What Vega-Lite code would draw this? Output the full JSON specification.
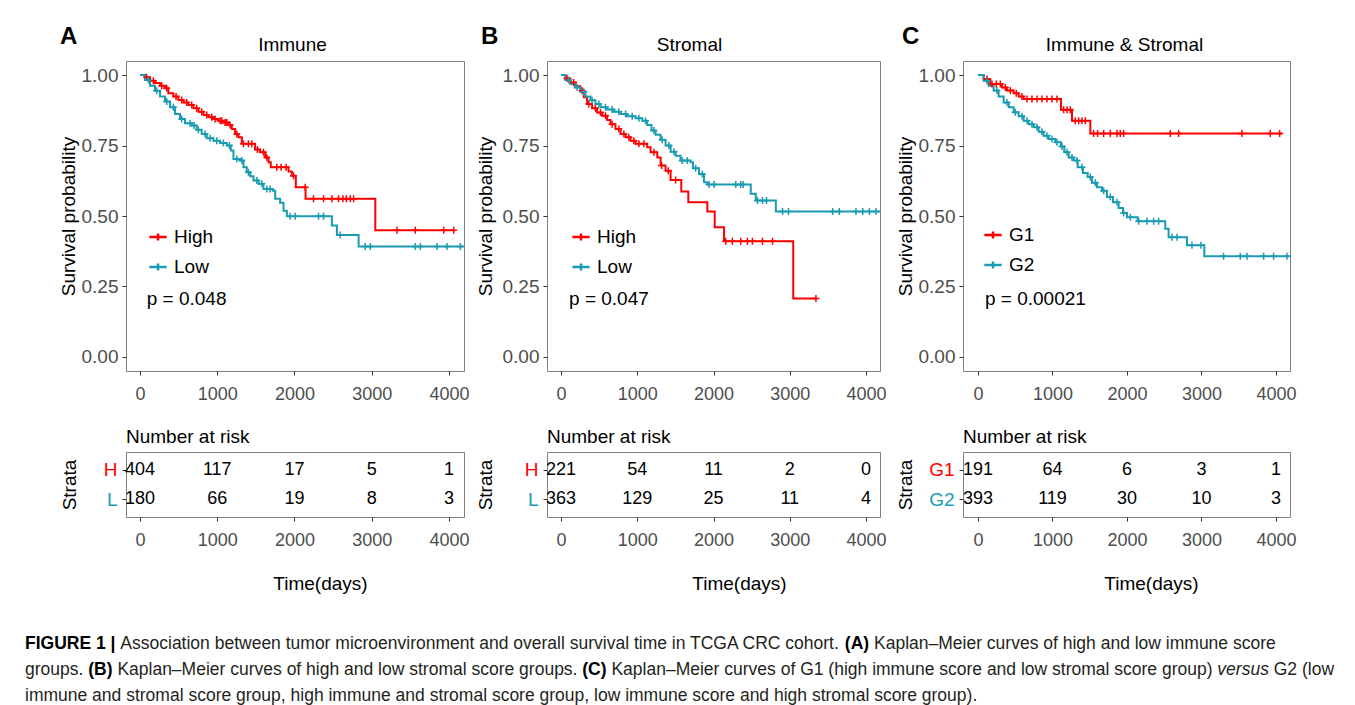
{
"$schema": "https://vega.github.io/schema/vega-lite/v6.json",
"background": "#ffffff",
"padding": {"left": 25, "top": 24, "right": 2, "bottom": 2},
"columns": 3,
"bounds": "flush",
"align": "each",
"spacing": {"row": 81, "column": 83},
"resolve": {"scale": {"color": "independent"}, "legend": {"color": "independent"}},
"datasets": {
"A_curve": [
{"group":"High","t":0,"s":1},{"group":"High","t":65,"s":0.992},{"group":"High","t":130,"s":0.98},{"group":"High","t":194,"s":0.972},{"group":"High","t":259,"s":0.962},{"group":"High","t":324,"s":0.953},{"group":"High","t":367,"s":0.936},{"group":"High","t":432,"s":0.924},{"group":"High","t":497,"s":0.912},{"group":"High","t":562,"s":0.903},{"group":"High","t":626,"s":0.894},{"group":"High","t":691,"s":0.882},{"group":"High","t":756,"s":0.87},{"group":"High","t":821,"s":0.858},{"group":"High","t":886,"s":0.85},{"group":"High","t":950,"s":0.844},{"group":"High","t":1015,"s":0.838},{"group":"High","t":1080,"s":0.832},{"group":"High","t":1145,"s":0.823},{"group":"High","t":1188,"s":0.809},{"group":"High","t":1231,"s":0.791},{"group":"High","t":1274,"s":0.779},{"group":"High","t":1318,"s":0.756},{"group":"High","t":1490,"s":0.736},{"group":"High","t":1555,"s":0.726},{"group":"High","t":1620,"s":0.708},{"group":"High","t":1663,"s":0.691},{"group":"High","t":1693,"s":0.673},{"group":"High","t":1922,"s":0.658},{"group":"High","t":1966,"s":0.643},{"group":"High","t":2017,"s":0.602},{"group":"High","t":2143,"s":0.561},{"group":"High","t":3046,"s":0.449},{"group":"High","t":4069,"s":0.449},
{"group":"Low","t":0,"s":1},{"group":"Low","t":65,"s":0.983},{"group":"Low","t":130,"s":0.962},{"group":"Low","t":194,"s":0.944},{"group":"Low","t":259,"s":0.924},{"group":"Low","t":324,"s":0.906},{"group":"Low","t":389,"s":0.886},{"group":"Low","t":454,"s":0.862},{"group":"Low","t":518,"s":0.844},{"group":"Low","t":583,"s":0.829},{"group":"Low","t":670,"s":0.821},{"group":"Low","t":734,"s":0.806},{"group":"Low","t":799,"s":0.791},{"group":"Low","t":864,"s":0.776},{"group":"Low","t":950,"s":0.767},{"group":"Low","t":1037,"s":0.759},{"group":"Low","t":1123,"s":0.75},{"group":"Low","t":1175,"s":0.732},{"group":"Low","t":1210,"s":0.702},{"group":"Low","t":1296,"s":0.697},{"group":"Low","t":1339,"s":0.673},{"group":"Low","t":1382,"s":0.655},{"group":"Low","t":1426,"s":0.641},{"group":"Low","t":1469,"s":0.626},{"group":"Low","t":1534,"s":0.614},{"group":"Low","t":1598,"s":0.596},{"group":"Low","t":1719,"s":0.59},{"group":"Low","t":1750,"s":0.561},{"group":"Low","t":1814,"s":0.547},{"group":"Low","t":1858,"s":0.519},{"group":"Low","t":1901,"s":0.499},{"group":"Low","t":2484,"s":0.466},{"group":"Low","t":2549,"s":0.433},{"group":"Low","t":2830,"s":0.392},{"group":"Low","t":4190,"s":0.392}
],
"A_cens": [
{"group":"High","t":86,"s":0.992},{"group":"High","t":173,"s":0.98},{"group":"High","t":281,"s":0.962},{"group":"High","t":346,"s":0.953},{"group":"High","t":467,"s":0.924},{"group":"High","t":540,"s":0.912},{"group":"High","t":605,"s":0.903},{"group":"High","t":670,"s":0.894},{"group":"High","t":734,"s":0.882},{"group":"High","t":799,"s":0.87},{"group":"High","t":864,"s":0.858},{"group":"High","t":929,"s":0.85},{"group":"High","t":972,"s":0.844},{"group":"High","t":1037,"s":0.838},{"group":"High","t":1058,"s":0.838},{"group":"High","t":1102,"s":0.832},{"group":"High","t":1123,"s":0.832},{"group":"High","t":1166,"s":0.823},{"group":"High","t":1253,"s":0.791},{"group":"High","t":1339,"s":0.756},{"group":"High","t":1404,"s":0.756},{"group":"High","t":1447,"s":0.756},{"group":"High","t":1521,"s":0.736},{"group":"High","t":1598,"s":0.726},{"group":"High","t":1642,"s":0.708},{"group":"High","t":1771,"s":0.673},{"group":"High","t":1827,"s":0.673},{"group":"High","t":1892,"s":0.673},{"group":"High","t":1987,"s":0.643},{"group":"High","t":2138,"s":0.602},{"group":"High","t":2246,"s":0.561},{"group":"High","t":2376,"s":0.561},{"group":"High","t":2484,"s":0.561},{"group":"High","t":2570,"s":0.561},{"group":"High","t":2627,"s":0.561},{"group":"High","t":2670,"s":0.561},{"group":"High","t":2722,"s":0.561},{"group":"High","t":2765,"s":0.561},{"group":"High","t":3326,"s":0.449},{"group":"High","t":3564,"s":0.449},{"group":"High","t":3931,"s":0.449},{"group":"High","t":4061,"s":0.449},
{"group":"Low","t":108,"s":0.983},{"group":"Low","t":216,"s":0.944},{"group":"Low","t":346,"s":0.906},{"group":"Low","t":432,"s":0.886},{"group":"Low","t":540,"s":0.844},{"group":"Low","t":648,"s":0.829},{"group":"Low","t":700,"s":0.821},{"group":"Low","t":756,"s":0.806},{"group":"Low","t":842,"s":0.791},{"group":"Low","t":907,"s":0.776},{"group":"Low","t":994,"s":0.767},{"group":"Low","t":1080,"s":0.759},{"group":"Low","t":1158,"s":0.75},{"group":"Low","t":1253,"s":0.702},{"group":"Low","t":1318,"s":0.697},{"group":"Low","t":1404,"s":0.655},{"group":"Low","t":1512,"s":0.626},{"group":"Low","t":1577,"s":0.614},{"group":"Low","t":1642,"s":0.596},{"group":"Low","t":1685,"s":0.596},{"group":"Low","t":1944,"s":0.499},{"group":"Low","t":2009,"s":0.499},{"group":"Low","t":2311,"s":0.499},{"group":"Low","t":2376,"s":0.499},{"group":"Low","t":2592,"s":0.433},{"group":"Low","t":2916,"s":0.392},{"group":"Low","t":2981,"s":0.392},{"group":"Low","t":3564,"s":0.392},{"group":"Low","t":3629,"s":0.392},{"group":"Low","t":3845,"s":0.392},{"group":"Low","t":3974,"s":0.392},{"group":"Low","t":4147,"s":0.392}
],
"B_curve": [
{"group":"High","t":0,"s":1},{"group":"High","t":57,"s":0.988},{"group":"High","t":123,"s":0.974},{"group":"High","t":188,"s":0.96},{"group":"High","t":254,"s":0.944},{"group":"High","t":298,"s":0.921},{"group":"High","t":342,"s":0.897},{"group":"High","t":407,"s":0.882},{"group":"High","t":473,"s":0.867},{"group":"High","t":539,"s":0.856},{"group":"High","t":605,"s":0.841},{"group":"High","t":648,"s":0.826},{"group":"High","t":714,"s":0.809},{"group":"High","t":780,"s":0.791},{"group":"High","t":846,"s":0.779},{"group":"High","t":911,"s":0.767},{"group":"High","t":977,"s":0.756},{"group":"High","t":1130,"s":0.744},{"group":"High","t":1174,"s":0.726},{"group":"High","t":1262,"s":0.708},{"group":"High","t":1306,"s":0.679},{"group":"High","t":1371,"s":0.661},{"group":"High","t":1437,"s":0.628},{"group":"High","t":1577,"s":0.587},{"group":"High","t":1669,"s":0.549},{"group":"High","t":1919,"s":0.516},{"group":"High","t":2015,"s":0.46},{"group":"High","t":2138,"s":0.41},{"group":"High","t":3045,"s":0.207},{"group":"High","t":3343,"s":0.207},
{"group":"Low","t":0,"s":1},{"group":"Low","t":57,"s":0.983},{"group":"Low","t":123,"s":0.968},{"group":"Low","t":188,"s":0.956},{"group":"Low","t":254,"s":0.941},{"group":"Low","t":320,"s":0.924},{"group":"Low","t":386,"s":0.911},{"group":"Low","t":451,"s":0.897},{"group":"Low","t":517,"s":0.886},{"group":"Low","t":605,"s":0.878},{"group":"Low","t":692,"s":0.87},{"group":"Low","t":780,"s":0.862},{"group":"Low","t":867,"s":0.854},{"group":"Low","t":977,"s":0.847},{"group":"Low","t":1065,"s":0.838},{"group":"Low","t":1130,"s":0.823},{"group":"Low","t":1187,"s":0.803},{"group":"Low","t":1240,"s":0.788},{"group":"Low","t":1306,"s":0.771},{"group":"Low","t":1371,"s":0.75},{"group":"Low","t":1437,"s":0.728},{"group":"Low","t":1503,"s":0.714},{"group":"Low","t":1568,"s":0.697},{"group":"Low","t":1700,"s":0.691},{"group":"Low","t":1730,"s":0.669},{"group":"Low","t":1809,"s":0.649},{"group":"Low","t":1875,"s":0.62},{"group":"Low","t":1919,"s":0.612},{"group":"Low","t":2488,"s":0.579},{"group":"Low","t":2554,"s":0.555},{"group":"Low","t":2817,"s":0.516},{"group":"Low","t":4183,"s":0.516}
],
"B_cens": [
{"group":"High","t":79,"s":0.988},{"group":"High","t":166,"s":0.974},{"group":"High","t":276,"s":0.944},{"group":"High","t":364,"s":0.897},{"group":"High","t":451,"s":0.882},{"group":"High","t":517,"s":0.867},{"group":"High","t":583,"s":0.856},{"group":"High","t":670,"s":0.826},{"group":"High","t":758,"s":0.809},{"group":"High","t":824,"s":0.791},{"group":"High","t":889,"s":0.779},{"group":"High","t":955,"s":0.767},{"group":"High","t":1021,"s":0.756},{"group":"High","t":1086,"s":0.756},{"group":"High","t":1218,"s":0.726},{"group":"High","t":1319,"s":0.679},{"group":"High","t":1406,"s":0.661},{"group":"High","t":1503,"s":0.628},{"group":"High","t":2160,"s":0.41},{"group":"High","t":2247,"s":0.41},{"group":"High","t":2357,"s":0.41},{"group":"High","t":2445,"s":0.41},{"group":"High","t":2510,"s":0.41},{"group":"High","t":2642,"s":0.41},{"group":"High","t":2773,"s":0.41},{"group":"High","t":3343,"s":0.207},
{"group":"Low","t":101,"s":0.983},{"group":"Low","t":210,"s":0.956},{"group":"Low","t":298,"s":0.941},{"group":"Low","t":407,"s":0.911},{"group":"Low","t":495,"s":0.897},{"group":"Low","t":583,"s":0.886},{"group":"Low","t":670,"s":0.878},{"group":"Low","t":758,"s":0.87},{"group":"Low","t":846,"s":0.862},{"group":"Low","t":933,"s":0.854},{"group":"Low","t":1021,"s":0.847},{"group":"Low","t":1108,"s":0.838},{"group":"Low","t":1218,"s":0.803},{"group":"Low","t":1327,"s":0.771},{"group":"Low","t":1415,"s":0.75},{"group":"Low","t":1481,"s":0.728},{"group":"Low","t":1590,"s":0.697},{"group":"Low","t":1656,"s":0.697},{"group":"Low","t":1766,"s":0.669},{"group":"Low","t":1853,"s":0.649},{"group":"Low","t":1941,"s":0.612},{"group":"Low","t":2007,"s":0.612},{"group":"Low","t":2291,"s":0.612},{"group":"Low","t":2357,"s":0.612},{"group":"Low","t":2388,"s":0.612},{"group":"Low","t":2576,"s":0.555},{"group":"Low","t":2642,"s":0.555},{"group":"Low","t":2694,"s":0.555},{"group":"Low","t":2905,"s":0.516},{"group":"Low","t":2983,"s":0.516},{"group":"Low","t":3562,"s":0.516},{"group":"Low","t":3649,"s":0.516},{"group":"Low","t":3868,"s":0.516},{"group":"Low","t":3956,"s":0.516},{"group":"Low","t":4044,"s":0.516},{"group":"Low","t":4131,"s":0.516}
],
"C_curve": [
{"group":"G1","t":0,"s":1},{"group":"G1","t":76,"s":0.986},{"group":"G1","t":166,"s":0.968},{"group":"G1","t":322,"s":0.956},{"group":"G1","t":389,"s":0.945},{"group":"G1","t":479,"s":0.936},{"group":"G1","t":546,"s":0.924},{"group":"G1","t":613,"s":0.915},{"group":"G1","t":1114,"s":0.877},{"group":"G1","t":1262,"s":0.838},{"group":"G1","t":1508,"s":0.793},{"group":"G1","t":4080,"s":0.793},
{"group":"G2","t":0,"s":1},{"group":"G2","t":76,"s":0.98},{"group":"G2","t":143,"s":0.962},{"group":"G2","t":210,"s":0.945},{"group":"G2","t":277,"s":0.924},{"group":"G2","t":345,"s":0.903},{"group":"G2","t":412,"s":0.886},{"group":"G2","t":479,"s":0.868},{"group":"G2","t":546,"s":0.854},{"group":"G2","t":613,"s":0.838},{"group":"G2","t":680,"s":0.826},{"group":"G2","t":747,"s":0.815},{"group":"G2","t":814,"s":0.799},{"group":"G2","t":881,"s":0.785},{"group":"G2","t":949,"s":0.773},{"group":"G2","t":1038,"s":0.762},{"group":"G2","t":1114,"s":0.747},{"group":"G2","t":1159,"s":0.726},{"group":"G2","t":1217,"s":0.708},{"group":"G2","t":1284,"s":0.697},{"group":"G2","t":1338,"s":0.673},{"group":"G2","t":1409,"s":0.653},{"group":"G2","t":1472,"s":0.638},{"group":"G2","t":1530,"s":0.618},{"group":"G2","t":1597,"s":0.602},{"group":"G2","t":1664,"s":0.59},{"group":"G2","t":1731,"s":0.567},{"group":"G2","t":1812,"s":0.549},{"group":"G2","t":1888,"s":0.528},{"group":"G2","t":1946,"s":0.511},{"group":"G2","t":2000,"s":0.496},{"group":"G2","t":2143,"s":0.481},{"group":"G2","t":2514,"s":0.455},{"group":"G2","t":2559,"s":0.425},{"group":"G2","t":2805,"s":0.396},{"group":"G2","t":3038,"s":0.357},{"group":"G2","t":4188,"s":0.357}
],
"C_cens": [
{"group":"G1","t":121,"s":0.986},{"group":"G1","t":188,"s":0.968},{"group":"G1","t":246,"s":0.968},{"group":"G1","t":300,"s":0.968},{"group":"G1","t":367,"s":0.956},{"group":"G1","t":434,"s":0.945},{"group":"G1","t":514,"s":0.936},{"group":"G1","t":590,"s":0.924},{"group":"G1","t":658,"s":0.915},{"group":"G1","t":725,"s":0.915},{"group":"G1","t":792,"s":0.915},{"group":"G1","t":859,"s":0.915},{"group":"G1","t":926,"s":0.915},{"group":"G1","t":993,"s":0.915},{"group":"G1","t":1060,"s":0.915},{"group":"G1","t":1150,"s":0.877},{"group":"G1","t":1195,"s":0.877},{"group":"G1","t":1239,"s":0.877},{"group":"G1","t":1306,"s":0.838},{"group":"G1","t":1351,"s":0.838},{"group":"G1","t":1396,"s":0.838},{"group":"G1","t":1441,"s":0.838},{"group":"G1","t":1552,"s":0.793},{"group":"G1","t":1606,"s":0.793},{"group":"G1","t":1687,"s":0.793},{"group":"G1","t":1776,"s":0.793},{"group":"G1","t":1866,"s":0.793},{"group":"G1","t":1910,"s":0.793},{"group":"G1","t":1955,"s":0.793},{"group":"G1","t":2581,"s":0.793},{"group":"G1","t":2693,"s":0.793},{"group":"G1","t":3543,"s":0.793},{"group":"G1","t":3924,"s":0.793},{"group":"G1","t":4049,"s":0.793},
{"group":"G2","t":121,"s":0.98},{"group":"G2","t":255,"s":0.945},{"group":"G2","t":389,"s":0.903},{"group":"G2","t":501,"s":0.868},{"group":"G2","t":591,"s":0.854},{"group":"G2","t":658,"s":0.838},{"group":"G2","t":725,"s":0.826},{"group":"G2","t":792,"s":0.815},{"group":"G2","t":859,"s":0.799},{"group":"G2","t":926,"s":0.785},{"group":"G2","t":993,"s":0.773},{"group":"G2","t":1060,"s":0.762},{"group":"G2","t":1127,"s":0.747},{"group":"G2","t":1195,"s":0.726},{"group":"G2","t":1262,"s":0.708},{"group":"G2","t":1329,"s":0.697},{"group":"G2","t":1396,"s":0.673},{"group":"G2","t":1508,"s":0.638},{"group":"G2","t":1575,"s":0.618},{"group":"G2","t":1687,"s":0.59},{"group":"G2","t":1776,"s":0.567},{"group":"G2","t":1866,"s":0.549},{"group":"G2","t":1955,"s":0.511},{"group":"G2","t":2045,"s":0.496},{"group":"G2","t":2157,"s":0.481},{"group":"G2","t":2268,"s":0.481},{"group":"G2","t":2358,"s":0.481},{"group":"G2","t":2425,"s":0.481},{"group":"G2","t":2604,"s":0.425},{"group":"G2","t":2671,"s":0.425},{"group":"G2","t":2872,"s":0.396},{"group":"G2","t":2993,"s":0.396},{"group":"G2","t":3297,"s":0.357},{"group":"G2","t":3521,"s":0.357},{"group":"G2","t":3611,"s":0.357},{"group":"G2","t":3834,"s":0.357},{"group":"G2","t":3968,"s":0.357},{"group":"G2","t":4147,"s":0.357}
],
"A_risk": [
{"strata":"H","t":0,"n":404},{"strata":"H","t":1000,"n":117},{"strata":"H","t":2000,"n":17},{"strata":"H","t":3000,"n":5},{"strata":"H","t":4000,"n":1},
{"strata":"L","t":0,"n":180},{"strata":"L","t":1000,"n":66},{"strata":"L","t":2000,"n":19},{"strata":"L","t":3000,"n":8},{"strata":"L","t":4000,"n":3}
],
"B_risk": [
{"strata":"H","t":0,"n":221},{"strata":"H","t":1000,"n":54},{"strata":"H","t":2000,"n":11},{"strata":"H","t":3000,"n":2},{"strata":"H","t":4000,"n":0},
{"strata":"L","t":0,"n":363},{"strata":"L","t":1000,"n":129},{"strata":"L","t":2000,"n":25},{"strata":"L","t":3000,"n":11},{"strata":"L","t":4000,"n":4}
],
"C_risk": [
{"strata":"G1","t":0,"n":191},{"strata":"G1","t":1000,"n":64},{"strata":"G1","t":2000,"n":6},{"strata":"G1","t":3000,"n":3},{"strata":"G1","t":4000,"n":1},
{"strata":"G2","t":0,"n":393},{"strata":"G2","t":1000,"n":119},{"strata":"G2","t":2000,"n":30},{"strata":"G2","t":3000,"n":10},{"strata":"G2","t":4000,"n":3}
]
},
"concat": [
{
"width": 338, "height": 310,
"title": {"text": "A", "anchor": "start", "frame": "group", "fontSize": 24, "fontWeight": "bold", "color": "#000000", "dx": -66, "offset": -33, "baseline": "alphabetic"},
"resolve": {"axis": {"x": "independent"}},
"layer": [
{"data": {"name": "A_curve"}, "mark": {"type": "line", "interpolate": "step-after", "strokeWidth": 2},
"encoding": {
"x": {"field": "t", "type": "quantitative", "scale": {"domain": [-181, 4194], "nice": false, "zero": false}, "axis": {"values": [0,1000,2000,3000,4000], "format": "d", "title": null, "labelFontSize": 18, "labelPadding": 10}},
"y": {"field": "s", "type": "quantitative", "scale": {"domain": [-0.05, 1.05], "nice": false, "zero": false}, "axis": {"values": [0,0.25,0.5,0.75,1], "format": ".2f", "labelFontSize": 19, "labelPadding": 4, "title": "Survival probability", "titleX": -58, "titleY": 155, "titleBaseline": "middle", "titleAngle": -90}},
"color": {"field": "group", "type": "nominal", "scale": {"domain": ["High","Low"], "range": ["#ff0000","#1a9bb2"]}, "legend": {"orient": "none", "legendX": 22, "legendY": 166, "title": null}}
}},
{"data": {"name": "A_cens"}, "mark": {"type": "point", "shape": "M-1,0L1,0M0,-1L0,1", "size": 49, "strokeWidth": 1.5, "filled": false, "opacity": 1},
"encoding": {
"x": {"field": "t", "type": "quantitative", "axis": {"orient": "top", "title": "Immune", "labels": false, "ticks": false, "titleX": 166, "titleY": -11, "titleBaseline": "alphabetic"}},
"y": {"field": "s", "type": "quantitative"},
"color": {"field": "group", "type": "nominal"}
}},
{"data": {"values": [{"label": "p = 0.048"}]}, "mark": {"type": "text", "align": "left", "baseline": "middle", "fontSize": 19, "color": "#000000"},
"encoding": {"x": {"datum": 87, "type": "quantitative", "axis": null}, "y": {"datum": 0.206, "type": "quantitative"}, "text": {"field": "label"}}}
]
},
{
"width": 333, "height": 310,
"title": {"text": "B", "anchor": "start", "frame": "group", "fontSize": 24, "fontWeight": "bold", "color": "#000000", "dx": -66, "offset": -33, "baseline": "alphabetic"},
"resolve": {"axis": {"x": "independent"}},
"layer": [
{"data": {"name": "B_curve"}, "mark": {"type": "line", "interpolate": "step-after", "strokeWidth": 2},
"encoding": {
"x": {"field": "t", "type": "quantitative", "scale": {"domain": [-184, 4183], "nice": false, "zero": false}, "axis": {"values": [0,1000,2000,3000,4000], "format": "d", "title": null, "labelFontSize": 18, "labelPadding": 10}},
"y": {"field": "s", "type": "quantitative", "scale": {"domain": [-0.05, 1.05], "nice": false, "zero": false}, "axis": {"values": [0,0.25,0.5,0.75,1], "format": ".2f", "labelFontSize": 19, "labelPadding": 4, "title": "Survival probability", "titleX": -62, "titleY": 155, "titleBaseline": "middle", "titleAngle": -90}},
"color": {"field": "group", "type": "nominal", "scale": {"domain": ["High","Low"], "range": ["#ff0000","#1a9bb2"]}, "legend": {"orient": "none", "legendX": 24, "legendY": 166, "title": null}}
}},
{"data": {"name": "B_cens"}, "mark": {"type": "point", "shape": "M-1,0L1,0M0,-1L0,1", "size": 49, "strokeWidth": 1.5, "filled": false, "opacity": 1},
"encoding": {
"x": {"field": "t", "type": "quantitative", "axis": {"orient": "top", "title": "Stromal", "labels": false, "ticks": false, "titleX": 142, "titleY": -11, "titleBaseline": "alphabetic"}},
"y": {"field": "s", "type": "quantitative"},
"color": {"field": "group", "type": "nominal"}
}},
{"data": {"values": [{"label": "p = 0.047"}]}, "mark": {"type": "text", "align": "left", "baseline": "middle", "fontSize": 19, "color": "#000000"},
"encoding": {"x": {"datum": 105, "type": "quantitative", "axis": null}, "y": {"datum": 0.206, "type": "quantitative"}, "text": {"field": "label"}}}
]
},
{
"width": 327, "height": 310,
"title": {"text": "C", "anchor": "start", "frame": "group", "fontSize": 24, "fontWeight": "bold", "color": "#000000", "dx": -61, "offset": -33, "baseline": "alphabetic"},
"resolve": {"axis": {"x": "independent"}},
"layer": [
{"data": {"name": "C_curve"}, "mark": {"type": "line", "interpolate": "step-after", "strokeWidth": 2},
"encoding": {
"x": {"field": "t", "type": "quantitative", "scale": {"domain": [-201, 4188], "nice": false, "zero": false}, "axis": {"values": [0,1000,2000,3000,4000], "format": "d", "title": null, "labelFontSize": 18, "labelPadding": 10}},
"y": {"field": "s", "type": "quantitative", "scale": {"domain": [-0.05, 1.05], "nice": false, "zero": false}, "axis": {"values": [0,0.25,0.5,0.75,1], "format": ".2f", "labelFontSize": 19, "labelPadding": 4, "title": "Survival probability", "titleX": -58, "titleY": 155, "titleBaseline": "middle", "titleAngle": -90}},
"color": {"field": "group", "type": "nominal", "scale": {"domain": ["G1","G2"], "range": ["#ff0000","#1a9bb2"]}, "legend": {"orient": "none", "legendX": 20, "legendY": 164, "title": null}}
}},
{"data": {"name": "C_cens"}, "mark": {"type": "point", "shape": "M-1,0L1,0M0,-1L0,1", "size": 49, "strokeWidth": 1.5, "filled": false, "opacity": 1},
"encoding": {
"x": {"field": "t", "type": "quantitative", "axis": {"orient": "top", "title": "Immune & Stromal", "labels": false, "ticks": false, "titleX": 161, "titleY": -11, "titleBaseline": "alphabetic"}},
"y": {"field": "s", "type": "quantitative"},
"color": {"field": "group", "type": "nominal"}
}},
{"data": {"values": [{"label": "p = 0.00021"}]}, "mark": {"type": "text", "align": "left", "baseline": "middle", "fontSize": 19, "color": "#000000"},
"encoding": {"x": {"datum": 94, "type": "quantitative", "axis": null}, "y": {"datum": 0.206, "type": "quantitative"}, "text": {"field": "label"}}}
]
},
{
"width": 338, "height": 65,
"title": {"text": "Number at risk", "anchor": "start", "frame": "group", "fontSize": 19, "fontWeight": "normal", "color": "#000000", "offset": 5},
"data": {"name": "A_risk"},
"mark": {"type": "text", "fontSize": 18, "color": "#000000", "baseline": "middle"},
"encoding": {
"x": {"field": "t", "type": "quantitative", "scale": {"domain": [-181, 4194], "nice": false, "zero": false}, "axis": {"values": [0,1000,2000,3000,4000], "format": "d", "labelFontSize": 18, "labelPadding": 10, "title": "Time(days)", "titleX": 194, "titleY": 72, "titleBaseline": "alphabetic"}},
"y": {"field": "strata", "type": "nominal", "scale": {"type": "point", "domain": ["H","L"], "padding": 0.62}, "axis": {"title": "Strata", "titleX": -57, "titleY": 32.5, "titleBaseline": "middle", "titleAngle": -90, "labelFontSize": 19, "labelPadding": 5, "labelColor": {"condition": {"test": "datum.value === 'H'", "value": "#ff0000"}, "value": "#1a9bb2"}}},
"text": {"field": "n", "type": "quantitative"}
}
},
{
"width": 333, "height": 65,
"title": {"text": "Number at risk", "anchor": "start", "frame": "group", "fontSize": 19, "fontWeight": "normal", "color": "#000000", "offset": 5},
"data": {"name": "B_risk"},
"mark": {"type": "text", "fontSize": 18, "color": "#000000", "baseline": "middle"},
"encoding": {
"x": {"field": "t", "type": "quantitative", "scale": {"domain": [-184, 4183], "nice": false, "zero": false}, "axis": {"values": [0,1000,2000,3000,4000], "format": "d", "labelFontSize": 18, "labelPadding": 10, "title": "Time(days)", "titleX": 192, "titleY": 72, "titleBaseline": "alphabetic"}},
"y": {"field": "strata", "type": "nominal", "scale": {"type": "point", "domain": ["H","L"], "padding": 0.62}, "axis": {"title": "Strata", "titleX": -62, "titleY": 32.5, "titleBaseline": "middle", "titleAngle": -90, "labelFontSize": 19, "labelPadding": 5, "labelColor": {"condition": {"test": "datum.value === 'H'", "value": "#ff0000"}, "value": "#1a9bb2"}}},
"text": {"field": "n", "type": "quantitative"}
}
},
{
"width": 327, "height": 65,
"title": {"text": "Number at risk", "anchor": "start", "frame": "group", "fontSize": 19, "fontWeight": "normal", "color": "#000000", "offset": 5},
"data": {"name": "C_risk"},
"mark": {"type": "text", "fontSize": 18, "color": "#000000", "baseline": "middle"},
"encoding": {
"x": {"field": "t", "type": "quantitative", "scale": {"domain": [-201, 4188], "nice": false, "zero": false}, "axis": {"values": [0,1000,2000,3000,4000], "format": "d", "labelFontSize": 18, "labelPadding": 10, "title": "Time(days)", "titleX": 188, "titleY": 72, "titleBaseline": "alphabetic"}},
"y": {"field": "strata", "type": "nominal", "scale": {"type": "point", "domain": ["G1","G2"], "padding": 0.62}, "axis": {"title": "Strata", "titleX": -58, "titleY": 32.5, "titleBaseline": "middle", "titleAngle": -90, "labelFontSize": 19, "labelPadding": 5, "labelColor": {"condition": {"test": "datum.value === 'G1'", "value": "#ff0000"}, "value": "#1a9bb2"}}},
"text": {"field": "n", "type": "quantitative"}
}
},
{
"width": 338, "height": 140,
"view": {"stroke": null},
"encoding": {
"x": {"datum": 0, "type": "quantitative", "scale": {"domain": [0, 1]}, "axis": null},
"y": {"field": "line", "type": "quantitative", "scale": {"domain": [-0.7692, 4.6154], "reverse": true, "nice": false, "zero": false}, "axis": null},
"text": {"field": "text"}
},
"layer": [
{"data": {"values": [{"line":1,"text":"FIGURE 1 |"}]}, "mark": {"type":"text","align":"left","baseline":"middle","fontSize":17.5,"fontWeight":"bold","dx":-101,"color":"#000000"}},
{"data": {"values": [{"line":1,"text":"Association between tumor microenvironment and overall survival time in TCGA CRC cohort."}]}, "mark": {"type":"text","align":"left","baseline":"middle","fontSize":17.5,"dx":-5.66,"color":"#231f20"}},
{"data": {"values": [{"line":1,"text":"(A)"}]}, "mark": {"type":"text","align":"left","baseline":"middle","fontSize":17.5,"fontWeight":"bold","dx":718.86,"color":"#000000"}},
{"data": {"values": [{"line":1,"text":"Kaplan–Meier curves of high and low immune score"}]}, "mark": {"type":"text","align":"left","baseline":"middle","fontSize":17.5,"dx":748.01,"color":"#231f20"}},
{"data": {"values": [{"line":2,"text":"groups."},{"line":3,"text":"immune and stromal score group, high immune and stromal score group, low immune score and high stromal score group)."}]}, "mark": {"type":"text","align":"left","baseline":"middle","fontSize":17.5,"dx":-101,"color":"#231f20"}},
{"data": {"values": [{"line":2,"text":"(B)"}]}, "mark": {"type":"text","align":"left","baseline":"middle","fontSize":17.5,"fontWeight":"bold","dx":-37.77,"color":"#000000"}},
{"data": {"values": [{"line":2,"text":"Kaplan–Meier curves of high and low stromal score groups."}]}, "mark": {"type":"text","align":"left","baseline":"middle","fontSize":17.5,"dx":-8.62,"color":"#231f20"}},
{"data": {"values": [{"line":2,"text":"(C)"}]}, "mark": {"type":"text","align":"left","baseline":"middle","fontSize":17.5,"fontWeight":"bold","dx":456.29,"color":"#000000"}},
{"data": {"values": [{"line":2,"text":"Kaplan–Meier curves of G1 (high immune score and low stromal score group)"}]}, "mark": {"type":"text","align":"left","baseline":"middle","fontSize":17.5,"dx":485.44,"color":"#231f20"}},
{"data": {"values": [{"line":2,"text":"versus"}]}, "mark": {"type":"text","align":"left","baseline":"middle","fontSize":17.5,"fontStyle":"italic","dx":1091.35,"color":"#231f20"}},
{"data": {"values": [{"line":2,"text":"G2 (low"}]}, "mark": {"type":"text","align":"left","baseline":"middle","fontSize":17.5,"dx":1147.75,"color":"#231f20"}}
]
}
],
"config": {
"font": "Liberation Sans",
"view": {"stroke": "#7f7f7f", "strokeWidth": 1},
"axis": {"grid": false, "domain": false, "tickColor": "#333333", "tickSize": 4, "tickWidth": 1, "labelColor": "#4d4d4d", "labelFont": "Liberation Sans", "titleFont": "Liberation Sans", "titleFontSize": 19, "titleFontWeight": "normal", "titleColor": "#000000", "labelFlush": false, "labelOverlap": false},
"legend": {"symbolType": "M-1,0L1,0M0,-0.4L0,0.4", "symbolSize": 300, "symbolStrokeWidth": 2.5, "labelFontSize": 19, "labelColor": "#000000", "labelFont": "Liberation Sans", "labelOffset": 6, "rowPadding": 10, "padding": 0},
"title": {"font": "Liberation Sans", "color": "#000000"},
"text": {"font": "Liberation Sans"}
}
}
